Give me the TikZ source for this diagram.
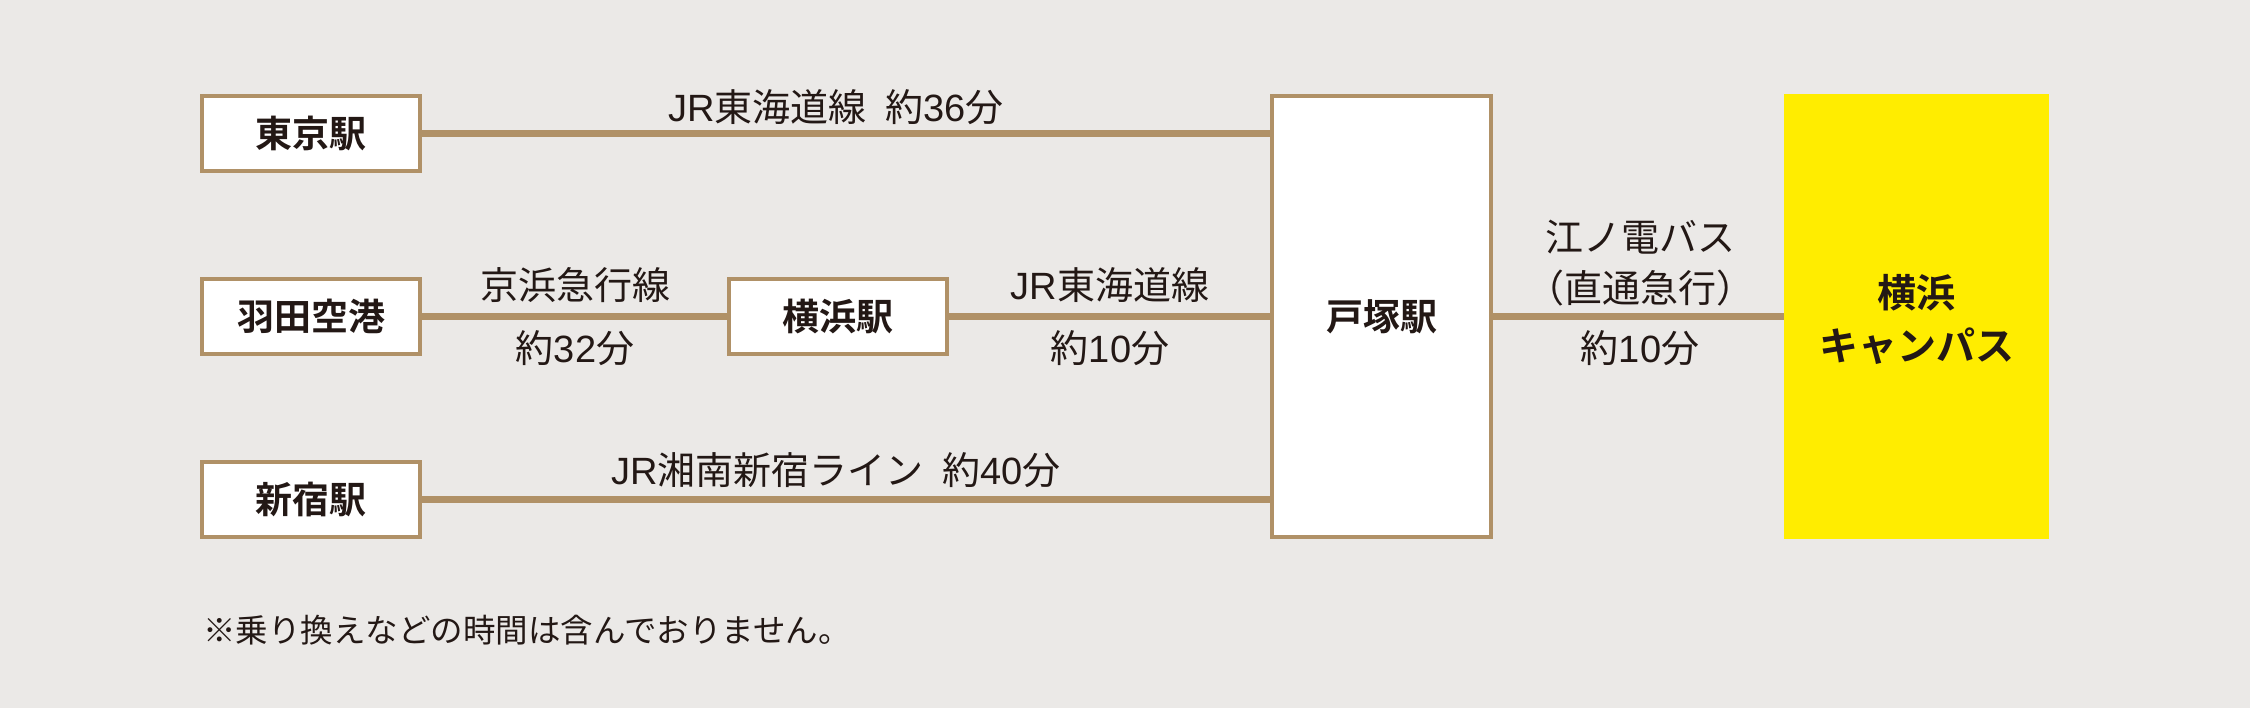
\documentclass[tikz,border=0pt]{standalone}
\usepackage{fontspec}
\setmainfont{Noto Sans CJK JP}[BoldFont={* Bold}]
\newfontfamily\lat{Liberation Sans}
\definecolor{bg}{HTML}{EBE9E7}
\definecolor{tan}{HTML}{B09167}
\definecolor{ink}{HTML}{231815}
\definecolor{ylw}{HTML}{FFED00}
\begin{document}
\begin{tikzpicture}[x=1pt,y=1pt,
  station/.style={draw=tan,line width=4pt,fill=white,minimum width=218pt,minimum height=75pt,inner sep=0pt,text=ink,font=\fontsize{37}{40}\selectfont\bfseries},
  rail/.style={draw=tan,line width=6.5pt},
  lbl/.style={text=ink,font=\fontsize{38}{40}\selectfont,inner sep=0pt},
  note/.style={text=ink,font=\fontsize{32.5}{36}\selectfont,inner sep=0pt}]
\fill[bg] (0,0) rectangle (2250,708);
\useasboundingbox (0,0) rectangle (2250,708);
\node[station] (tokyo) at (311,574.5) {東京駅};
\node[station] (haneda) at (311,391.5) {羽田空港};
\node[station] (shinjuku) at (311,208.5) {新宿駅};
\node[station] (yokohama) at (837.5,391.5) {横浜駅};
\node[station,minimum width=219pt,minimum height=441pt] (totsuka) at (1381.5,391.5) {戸塚駅};
\node[fill=ylw,minimum width=265pt,minimum height=445pt,inner sep=0pt] (campus) at (1916.5,391.5) {};
\node[text=ink,align=center,inner sep=0pt,font=\fontsize{39}{53}\selectfont\bfseries] (campustext) at ([yshift=-3pt]campus.center) {横浜\\キャンパス};
\draw[rail] (tokyo.east) -- (tokyo.east -| totsuka.west);
\draw[rail] (haneda) -- (yokohama);
\draw[rail] (yokohama) -- (yokohama -| totsuka.west);
\draw[rail] (shinjuku.east) -- (shinjuku.east -| totsuka.west);
\draw[rail] (totsuka) -- (campus);
\node[lbl] (l1) at (836,601) {{\lat JR}東海道線\hspace{0.5em}約{\lat 36}分};
\node[lbl] (l2a) at (575,423) {京浜急行線};
\node[lbl] (l2b) at (575,360) {約{\lat 32}分};
\node[lbl] (l3a) at (1110,423) {{\lat JR}東海道線};
\node[lbl] (l3b) at (1110,360) {約{\lat 10}分};
\node[lbl] (l4) at (836,238) {{\lat JR}湘南新宿ライン\hspace{0.5em}約{\lat 40}分};
\node[lbl] (l5a) at (1640,471) {江ノ電バス};
\node[lbl] (l5b) at (1640,420) {（直通急行）};
\node[lbl] (l5c) at (1640,360) {約{\lat 10}分};
\node[note,anchor=west] (n) at (203,78) {※乗り換えなどの時間は含んでおりません。};
\end{tikzpicture}
\end{document}
